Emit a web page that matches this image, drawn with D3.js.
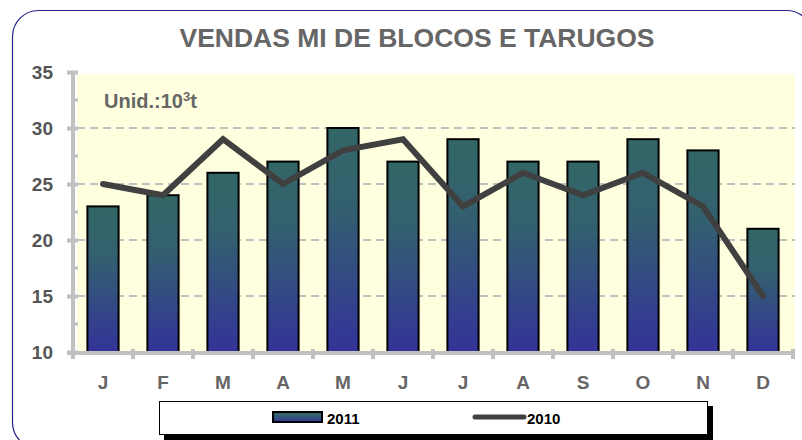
<!DOCTYPE html>
<html>
<head>
<meta charset="utf-8">
<script src="https://cdn.jsdelivr.net/npm/d3@7"></script>
<style>
  body { margin: 0; background: #fff; }
  svg { display: block; font-family: Arial, "Liberation Sans", sans-serif; }
</style>
</head>
<body>
<svg width="802" height="440"></svg>
<script>
// chart values
let months = ["J", "F", "M", "A", "M", "J", "J", "A", "S", "O", "N", "D"];
let sales2011 = [23, 24, 26, 27, 30, 27, 29, 27, 27, 29, 28, 21];
let sales2010 = [25, 24, 29, 25, 28, 29, 23, 26, 24, 26, 23, 15];
let yTicks = [10, 15, 20, 25, 30, 35];

let svg = d3.select("svg");
let padLeft = 73, padRight = 795, padTop = 72, padBottom = 352;

// outer rounded frame
svg.append("rect")
  .attr("x", 12.5).attr("y", 10.5)
  .attr("width", 800).attr("height", 438)
  .attr("rx", 26).attr("ry", 26)
  .attr("fill", "#fff")
  .attr("stroke", "#22228a")
  .attr("stroke-width", 1.2);

let defs = svg.append("defs");
let grad = defs.append("linearGradient")
  .attr("id", "barGrad")
  .attr("x1", 0).attr("y1", 0).attr("x2", 0).attr("y2", 1);
grad.append("stop").attr("offset", "0%").attr("stop-color", "#336666");
grad.append("stop").attr("offset", "35%").attr("stop-color", "#33606f");
grad.append("stop").attr("offset", "100%").attr("stop-color", "#333399");

let idx = months.map((m, i) => i);
let xScale = d3.scaleBand()
  .domain(idx)
  .range([padLeft, padLeft + 60 * 12])
  .paddingInner(0.48)
  .paddingOuter(0.24);

let yScale = d3.scaleLinear()
  .domain([10, 35])
  .range([padBottom, padTop]);

// plot area background
svg.append("rect")
  .attr("x", padLeft + 4).attr("y", yScale(35) + 2)
  .attr("width", padRight - padLeft - 4)
  .attr("height", padBottom - yScale(35) - 2)
  .attr("fill", "#ffffdf");

// dashed grid
svg.append("g")
  .selectAll("line")
  .data([15, 20, 25, 30])
  .enter()
  .append("line")
  .attr("x1", padLeft + 4).attr("x2", padRight)
  .attr("y1", d => yScale(d)).attr("y2", d => yScale(d))
  .attr("stroke", "#c0c0c0")
  .attr("stroke-width", 2)
  .attr("stroke-dasharray", "8,5");

// title
svg.append("text")
  .text("VENDAS MI DE BLOCOS E TARUGOS")
  .attr("x", 417).attr("y", 47)
  .attr("text-anchor", "middle")
  .attr("font-size", 26.5)
  .attr("font-weight", "bold")
  .attr("fill", "#666");

// unit label
let unit = svg.append("text")
  .attr("x", 104).attr("y", 108)
  .attr("font-size", 20)
  .attr("font-weight", "bold")
  .attr("fill", "#666");
unit.append("tspan").text("Unid.:10");
unit.append("tspan").text("3").attr("font-size", 13).attr("dy", -7);
unit.append("tspan").text("t").attr("dy", 7);

// bars
svg.append("g")
  .selectAll("rect")
  .data(sales2011)
  .enter()
  .append("rect")
  .attr("x", (d, i) => xScale(i))
  .attr("y", d => yScale(d))
  .attr("width", xScale.bandwidth())
  .attr("height", d => padBottom - yScale(d))
  .attr("fill", "url(#barGrad)")
  .attr("stroke", "#000")
  .attr("stroke-width", 2);

// line 2010
let line = d3.line()
  .x((d, i) => xScale(i) + xScale.bandwidth() / 2)
  .y(d => yScale(d));
svg.append("path")
  .datum(sales2010)
  .attr("d", line)
  .attr("fill", "none")
  .attr("stroke", "#404040")
  .attr("stroke-width", 6)
  .attr("stroke-linejoin", "miter")
  .attr("stroke-linecap", "round");

// y axis
let yAxis = d3.axisLeft(yScale)
  .tickValues(yTicks)
  .tickSize(6)
  .tickPadding(14);
let yG = svg.append("g")
  .attr("transform", `translate(${padLeft},0)`)
  .call(yAxis);
yG.select(".domain").attr("stroke", "#c0c0c0").attr("stroke-width", 4)
  .attr("d", `M0,${yScale(35)}V${padBottom}`);
yG.selectAll(".tick line")
  .attr("stroke", "#c0c0c0").attr("stroke-width", 4)
  .attr("x1", 5).attr("x2", -6);
yG.selectAll(".tick text")
  .attr("fill", "#555").attr("font-size", 19).attr("font-weight", "bold")
  .attr("font-family", "Arial, 'Liberation Sans', sans-serif");

// minor ticks on y
yG.append("g")
  .selectAll("line")
  .data([12.5, 17.5, 22.5, 27.5, 32.5])
  .enter()
  .append("line")
  .attr("x1", 0).attr("x2", 5)
  .attr("y1", d => yScale(d)).attr("y2", d => yScale(d))
  .attr("stroke", "#c0c0c0").attr("stroke-width", 3);

// x axis
let xBand = d3.scaleBand().domain(idx).range([padLeft, padLeft + 60 * 12]);
let xG = svg.append("g")
  .attr("transform", `translate(0,${padBottom + 1})`);
xG.append("line")
  .attr("x1", padLeft - 6).attr("x2", padLeft + 60 * 12 + 2)
  .attr("stroke", "#c0c0c0").attr("stroke-width", 4);
xG.selectAll(".xtick")
  .data(idx.concat([12]))
  .enter()
  .append("line")
  .attr("class", "xtick")
  .attr("x1", d => padLeft + d * xBand.step())
  .attr("x2", d => padLeft + d * xBand.step())
  .attr("y1", -4).attr("y2", 6)
  .attr("stroke", "#c0c0c0").attr("stroke-width", 4);
xG.selectAll(".xlabel")
  .data(months)
  .enter()
  .append("text")
  .attr("class", "xlabel")
  .text(d => d)
  .attr("x", (d, i) => xBand(i) + xBand.bandwidth() / 2)
  .attr("y", 36)
  .attr("text-anchor", "middle")
  .attr("font-size", 19)
  .attr("font-weight", "bold")
  .attr("fill", "#666");

// legend
let lg = svg.append("g");
lg.append("rect")
  .attr("x", 164).attr("y", 406).attr("width", 549).attr("height", 40)
  .attr("fill", "#000");
lg.append("rect")
  .attr("x", 159.5).attr("y", 401.5).attr("width", 548).attr("height", 33)
  .attr("fill", "#fff").attr("stroke", "#000").attr("stroke-width", 1);
lg.append("rect")
  .attr("x", 273).attr("y", 412).attr("width", 49).attr("height", 10)
  .attr("fill", "url(#barGrad)")
  .attr("stroke", "#000").attr("stroke-width", 2);
lg.append("text")
  .text("2011")
  .attr("x", 327).attr("y", 424)
  .attr("font-size", 15).attr("font-weight", "bold").attr("fill", "#000");
lg.append("line")
  .attr("x1", 475).attr("x2", 524).attr("y1", 417).attr("y2", 417)
  .attr("stroke", "#404040").attr("stroke-width", 5)
  .attr("stroke-linecap", "round");
lg.append("text")
  .text("2010")
  .attr("x", 527).attr("y", 424)
  .attr("font-size", 15).attr("font-weight", "bold").attr("fill", "#000");
</script>
</body>
</html>
